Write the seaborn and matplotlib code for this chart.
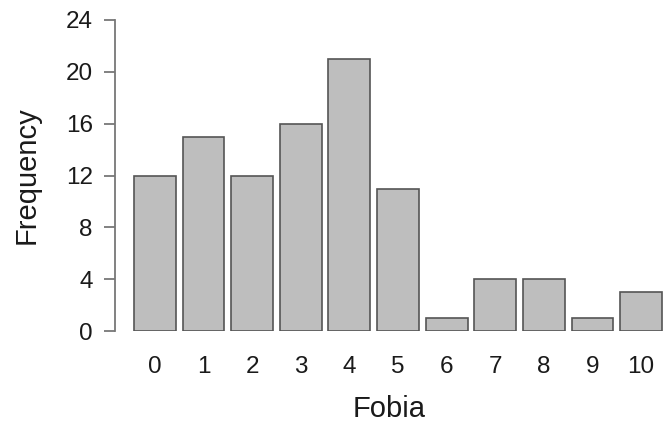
import pandas as pd
import numpy as np
import matplotlib
matplotlib.use('Agg')
import matplotlib.pyplot as plt
import seaborn as sns

# --- data ---
fobia = ['0', '1', '2', '3', '4', '5', '6', '7', '8', '9', '10']
counts = [12, 15, 12, 16, 21, 11, 1, 4, 4, 1, 3]
y_ticks = [0, 4, 8, 12, 16, 20, 24]

df = pd.DataFrame({'Fobia': fobia, 'Frequency': counts})

sns.set_style('white')
plt.rcParams['font.family'] = ['Liberation Sans', 'DejaVu Sans']
plt.rcParams['text.color'] = '#1a1a1a'
plt.rcParams['axes.labelcolor'] = '#1a1a1a'

fig = plt.figure(figsize=(6.65, 4.24), dpi=100)
ax = fig.add_axes([0.173, 0.219, 0.824, 0.734])

sns.barplot(data=df, x='Fobia', y='Frequency', order=fobia, color='#bebebe',
            edgecolor='#555555', linewidth=1.2, width=0.86, saturation=1, ax=ax)

ax.set_xlim(-0.82, 10.45)
ax.set_ylim(0, 24)
ax.set_yticks(y_ticks)

# JASP-like axes: only a gray left spine with outward ticks
for side in ['top', 'right', 'bottom']:
    ax.spines[side].set_visible(False)
ax.spines['left'].set_color('#777777')
ax.spines['left'].set_linewidth(1.3)
ax.tick_params(axis='y', length=8, width=1.3, color='#777777', labelsize=17.5,
               pad=8, left=True, labelcolor='#1a1a1a')
ax.tick_params(axis='x', length=0, labelsize=17.5, pad=18, labelcolor='#1a1a1a')

ax.set_xlabel('Fobia', fontsize=21, labelpad=12)
ax.set_ylabel('Frequency', fontsize=21, labelpad=18)

fig.savefig('out.png', dpi=100)
